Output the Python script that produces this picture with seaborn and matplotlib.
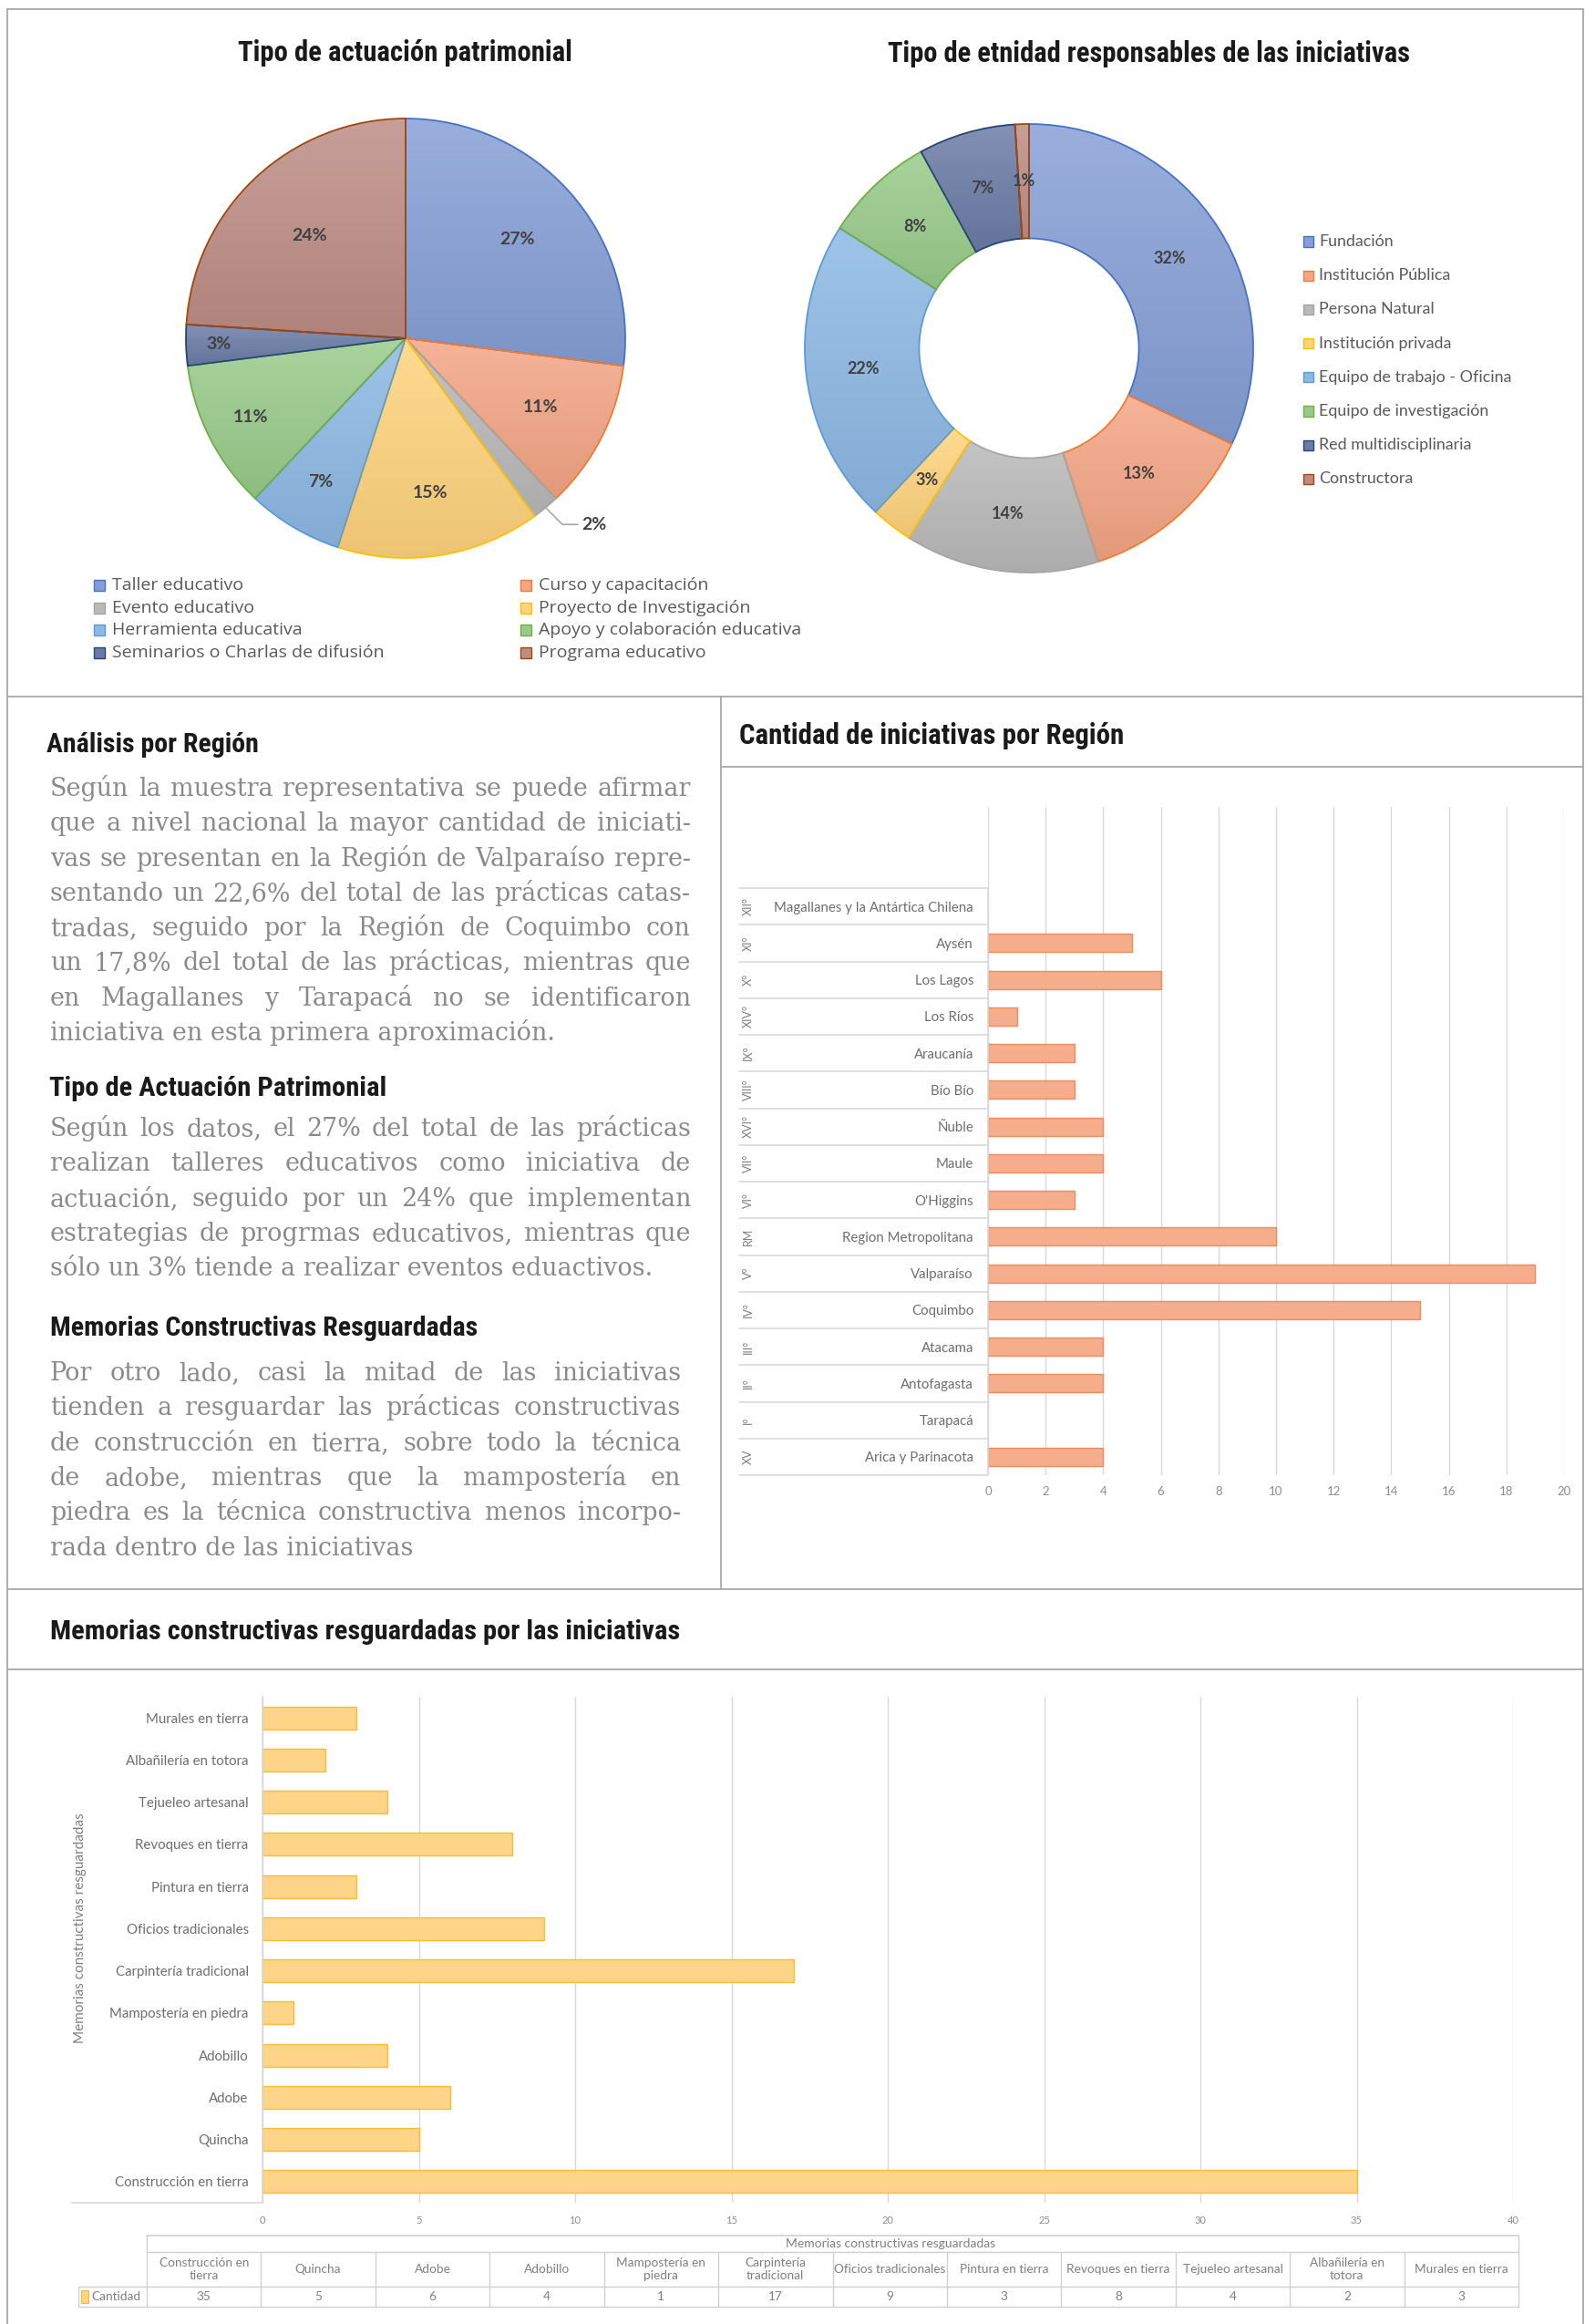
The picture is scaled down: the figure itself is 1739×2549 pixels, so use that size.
import numpy as np
import pandas as pd
import matplotlib
matplotlib.use("Agg")
import matplotlib.pyplot as plt
import seaborn as sns
from matplotlib import font_manager as fm
from matplotlib.colors import to_rgb
from matplotlib.lines import Line2D
from matplotlib.patches import Rectangle

W, H = 1739, 2549

# ---------------- data ----------------
actuacion_labels = ["Taller educativo", "Curso y capacitación", "Evento educativo",
                    "Proyecto de Investigación", "Herramienta educativa",
                    "Apoyo y colaboración educativa", "Seminarios o Charlas de difusión",
                    "Programa educativo"]
actuacion_pct = [27, 11, 2, 15, 7, 11, 3, 24]

entidad_labels = ["Fundación", "Institución Pública", "Persona Natural", "Institución privada",
                  "Equipo de trabajo - Oficina", "Equipo de investigación",
                  "Red multidisciplinaria", "Constructora"]
entidad_pct = [32, 13, 14, 3, 22, 8, 7, 1]

region_numeros = ["XII°", "XI°", "X°", "XIV°", "IX°", "VIII°", "XVI°", "VII°", "VI°", "RM",
                  "V°", "IV°", "III°", "II°", "I°", "XV"]
region_nombres = ["Magallanes y la Antártica Chilena", "Aysén", "Los Lagos", "Los Ríos",
                  "Araucanía", "Bío Bío", "Ñuble", "Maule", "O'Higgins",
                  "Region Metropolitana", "Valparaíso", "Coquimbo", "Atacama",
                  "Antofagasta", "Tarapacá", "Arica y Parinacota"]
region_cantidad = [0, 5, 6, 1, 3, 3, 4, 4, 3, 10, 19, 15, 4, 4, 0, 4]
region_ticks = [0, 2, 4, 6, 8, 10, 12, 14, 16, 18, 20]

memorias = ["Construcción en tierra", "Quincha", "Adobe", "Adobillo", "Mampostería en piedra",
            "Carpintería tradicional", "Oficios tradicionales", "Pintura en tierra",
            "Revoques en tierra", "Tejueleo artesanal", "Albañilería en totora",
            "Murales en tierra"]
memorias_tabla = ["Construcción en\ntierra", "Quincha", "Adobe", "Adobillo",
                  "Mampostería en\npiedra", "Carpintería\ntradicional", "Oficios tradicionales",
                  "Pintura en tierra", "Revoques en tierra", "Tejueleo artesanal",
                  "Albañilería en\ntotora", "Murales en tierra"]
memorias_cantidad = [35, 5, 6, 4, 1, 17, 9, 3, 8, 4, 2, 3]
memorias_ticks = [0, 5, 10, 15, 20, 25, 30, 35, 40]

# ---------------- style ----------------
sns.set_theme(style="white")
plt.rcParams["font.family"] = ["Lato", "DejaVu Sans"]

PIE_FILL = ["#869FD6", "#F4A584", "#B9B9B9", "#FFD37C", "#8DB8E4", "#98CB8A", "#6A7CA6", "#BD8D84"]
PIE_EDGE = ["#4472C4", "#ED7D31", "#A5A5A5", "#FFC000", "#5B9BD5", "#70AD47", "#264478", "#9E480E"]
REG_FILL, REG_EDGE = "#F5AD8C", "#EC8B5F"
MEM_FILL, MEM_EDGE = "#FDD488", "#F4BD34"
FRAME = "#A8A8A8"
GRID = "#D9D9D9"
TXT = "#595959"
LBL = "#404040"
BODY = "#8A8A8A"
SMALL = "#7F7F7F"


def condensed_bold():
    prefs = ["Liberation Sans Narrow", "Roboto Condensed", "Open Sans Condensed",
             "Noto Sans", "DejaVu Sans", "Liberation Sans"]
    found = []
    for f in fm.fontManager.ttflist:
        fn = f.fname.lower()
        cond = ("condensed" in str(f.stretch) or "narrow" in f.name.lower()
                or "condensed" in fn or "narrow" in fn)
        bold = str(f.weight) in ("bold", "700") or "bold" in fn
        if cond and bold and "italic" not in fn and "oblique" not in fn:
            found.append(f)

    def rank(f):
        fn = f.fname.lower()
        odd = any(k in fn for k in ("extracondensed", "semicondensed", "ultracondensed",
                                    "extra-condensed", "semi-condensed"))
        heavy = any(k in fn for k in ("extrabold", "black", "semibold", "heavy"))
        base = next((i for i, p in enumerate(prefs) if f.name.startswith(p)), len(prefs))
        return (odd, heavy, base)

    if found:
        found.sort(key=rank)
        return fm.FontProperties(fname=found[0].fname)
    return fm.FontProperties(family="DejaVu Sans", weight="bold")


HEAD_FP = condensed_bold()

fig = plt.figure(figsize=(W / 100, H / 100), dpi=100)
fig.patch.set_facecolor("white")
renderer = fig.canvas.get_renderer()


def box(x0, y0, x1, y1):
    return [x0 / W, 1 - y1 / H, (x1 - x0) / W, (y1 - y0) / H]


def hline(y, x0, x1, color=FRAME, lw=1.3):
    fig.add_artist(Line2D([x0 / W, x1 / W], [1 - y / H, 1 - y / H],
                          transform=fig.transFigure, color=color, lw=lw))


def vline(x, y0, y1, color=FRAME, lw=1.3):
    fig.add_artist(Line2D([x / W, x / W], [1 - y0 / H, 1 - y1 / H],
                          transform=fig.transFigure, color=color, lw=lw))


def ftext(x, y, s, **kw):
    return fig.text(x / W, 1 - y / H, s, **kw)


def heading(x, y, s, width, ha="left"):
    fp = HEAD_FP.copy()
    fp.set_size(20)
    t = ftext(x, y, s, fontproperties=fp, ha=ha, va="baseline", color="#1A1A1A")
    w = t.get_window_extent(renderer).width
    t.set_fontsize(20 * width / w)
    return t


def shade(c, amount):
    """Blend a colour towards white (amount > 0) or black (amount < 0)."""
    c = np.array(to_rgb(c))
    if amount >= 0:
        return c + (1 - c) * amount
    return c * (1 + amount)


def gradient_wedges(ax, wedges, fills):
    """Fill each wedge with a soft top-to-bottom gradient, keeping its outline."""
    ramp = np.linspace(0, 1, 256)[:, None, None]
    for wdg, fc in zip(wedges, fills):
        top, bot = shade(fc, 0.16), shade(fc, -0.07)
        img = top * (1 - ramp) + bot * ramp
        ext = wdg.get_path().get_extents()
        im = ax.imshow(img, extent=[ext.x0, ext.x1, ext.y0, ext.y1], origin="upper",
                       aspect="auto", interpolation="bilinear", zorder=0.9)
        im.set_clip_path(wdg)
        wdg.set_facecolor("none")


# ---------------- panel frames ----------------
vline(8, 10, H)
vline(1737, 10, H)
hline(10, 8, 1737)
hline(764, 8, 1737)
hline(1743, 8, 1737)
vline(791, 764, 1743)
hline(841, 791, 1737)
hline(1831, 8, 1737)

# ---------------- pie: tipo de actuación ----------------
heading(444, 67, "Tipo de actuación patrimonial", 366, ha="center")
cx, cy, R = 445, 371, 241
ax_pie = fig.add_axes(box(cx - 252, cy - 252, cx + 252, cy + 252))
wedges, _ = ax_pie.pie(actuacion_pct, colors=PIE_FILL, startangle=90, counterclock=False,
                       wedgeprops=dict(linewidth=1.3))
for wdg, ec in zip(wedges, PIE_EDGE):
    wdg.set_edgecolor(ec)
gradient_wedges(ax_pie, wedges, PIE_FILL)
lim = 252 / R
ax_pie.set_xlim(-lim, lim)
ax_pie.set_ylim(-lim, lim)
ax_pie.set_aspect("auto")
ax_pie.axis("off")
pie_r = [0.68, 0.69, None, 0.71, 0.76, 0.79, 0.85, 0.64]
for wdg, pct, r in zip(wedges, actuacion_pct, pie_r):
    a = np.deg2rad((wdg.theta1 + wdg.theta2) / 2)
    if r is None:
        p0 = np.array([np.cos(a), np.sin(a)])
        p1 = np.array([1.12 * np.cos(a), 1.1 * np.sin(a)])
        p2 = p1 + np.array([0.07, 0.0])
        ax_pie.plot([p0[0], p1[0], p2[0]], [p0[1], p1[1], p2[1]], color="#A6A6A6",
                    lw=1.2, clip_on=False)
        ax_pie.text(p2[0] + 0.02, p2[1], f"{pct}%", ha="left", va="center",
                    fontsize=14, fontweight="bold", color=LBL)
    else:
        ax_pie.text(r * np.cos(a), r * np.sin(a), f"{pct}%", ha="center", va="center",
                    fontsize=14, fontweight="bold", color=LBL)

# legend in two columns (row-major order)
leg_rows = [642, 667, 691, 716]
for i, (lab, fc, ec) in enumerate(zip(actuacion_labels, PIE_FILL, PIE_EDGE)):
    col, row = i % 2, i // 2
    mx = 103 if col == 0 else 571
    y = leg_rows[row]
    fig.add_artist(Rectangle((mx / W, 1 - (y + 6) / H), 12 / W, 12 / H,
                             transform=fig.transFigure, facecolor=fc, edgecolor=ec, lw=1))
    ftext(mx + 20, y, lab, ha="left", va="center", fontsize=14, color=TXT,
          family=["Open Sans", "DejaVu Sans"])

# ---------------- donut: tipo de entidad ----------------
heading(1261, 68, "Tipo de etnidad responsables de las iniciativas", 571, ha="center")
dx, dy, DR = 1129, 382, 246
ax_don = fig.add_axes(box(dx - 257, dy - 257, dx + 257, dy + 257))
wedges2, _ = ax_don.pie(entidad_pct, colors=PIE_FILL, startangle=90, counterclock=False,
                        wedgeprops=dict(width=0.51, linewidth=1.3))
for wdg, ec in zip(wedges2, PIE_EDGE):
    wdg.set_edgecolor(ec)
gradient_wedges(ax_don, wedges2, PIE_FILL)
lim = 257 / DR
ax_don.set_xlim(-lim, lim)
ax_don.set_ylim(-lim, lim)
ax_don.set_aspect("auto")
ax_don.axis("off")
for wdg, pct in zip(wedges2, entidad_pct):
    a = np.deg2rad((wdg.theta1 + wdg.theta2) / 2)
    ax_don.text(0.745 * np.cos(a), 0.745 * np.sin(a), f"{pct}%", ha="center", va="center",
                fontsize=13, fontweight="bold", color=LBL)

for i, (lab, fc, ec) in enumerate(zip(entidad_labels, PIE_FILL, PIE_EDGE)):
    y = 265 + i * 37.2
    fig.add_artist(Rectangle((1430 / W, 1 - (y + 5.5) / H), 11 / W, 11 / H,
                             transform=fig.transFigure, facecolor=fc, edgecolor=ec, lw=1))
    ftext(1447, y, lab, ha="left", va="center", fontsize=12.9, color=TXT)

# ---------------- text column ----------------
paragraphs = [
    ("Análisis por Región", 825, 51, 232, 873, 758, [
        "Según la muestra representativa se puede afirmar",
        "que a nivel nacional la mayor cantidad de iniciati-",
        "vas se presentan en la Región de Valparaíso repre-",
        "sentando un 22,6% del total de las prácticas catas-",
        "tradas, seguido por la Región de Coquimbo con",
        "un 17,8% del total de las prácticas, mientras que",
        "en Magallanes y Tarapacá no se identificaron",
        "iniciativa en esta primera aproximación.",
    ]),
    ("Tipo de Actuación Patrimonial", 1202, 54, 369, 1246, 758, [
        "Según los datos, el 27% del total de las prácticas",
        "realizan talleres educativos como iniciativa de",
        "actuación, seguido por un 24% que implementan",
        "estrategias de progrmas educativos, mientras que",
        "sólo un 3% tiende a realizar eventos eduactivos.",
    ]),
    ("Memorias Constructivas Resguardadas", 1465, 55, 470, 1514, 747, [
        "Por otro lado, casi la mitad de las iniciativas",
        "tienden a resguardar las prácticas constructivas",
        "de construcción en tierra, sobre todo la técnica",
        "de adobe,  mientras que la mampostería en",
        "piedra es la técnica constructiva menos incorpo-",
        "rada dentro de las iniciativas",
    ]),
]
BODY_FAMILY = ["DejaVu Serif"]
LEFT = 55
LSP = 38.3

# pick a body size so the widest full line fits its column
probe_size = 20.0
scale = 10.0
for _, _, _, _, _, right, lines in paragraphs:
    for ln in lines[:-1]:
        t = fig.text(0, 0, ln, fontsize=probe_size, family=BODY_FAMILY)
        w = t.get_window_extent(renderer).width
        t.remove()
        scale = min(scale, (right - LEFT) * 0.99 / w)
body_size = probe_size * scale

for title, tb, tx, tw, b0, right, lines in paragraphs:
    heading(tx, tb, title, tw)
    for k, ln in enumerate(lines):
        yb = b0 + k * LSP
        words = ln.split()
        last = k == len(lines) - 1
        if last or len(words) == 1:
            ftext(LEFT, yb, " ".join(words), fontsize=body_size, family=BODY_FAMILY,
                  color=BODY, va="baseline", ha="left")
            continue
        objs = [ftext(0, yb, wd, fontsize=body_size, family=BODY_FAMILY, color=BODY,
                      va="baseline", ha="left") for wd in words]
        widths = [o.get_window_extent(renderer).width for o in objs]
        gap = (right - LEFT - sum(widths)) / (len(words) - 1)
        x = LEFT
        for o, wdt in zip(objs, widths):
            o.set_x(x / W)
            x += wdt + gap

# ---------------- bar chart: regiones ----------------
heading(811, 816, "Cantidad de iniciativas por Región", 421)
AX3 = (1084, 885, 1716, 1618)
ax3 = fig.add_axes(box(*AX3))
df_reg = pd.DataFrame({"region": region_nombres, "cantidad": region_cantidad})
sns.barplot(data=df_reg, x="cantidad", y="region", order=region_nombres, orient="h",
            color=REG_FILL, edgecolor=REG_EDGE, linewidth=1.0, width=0.5, saturation=1,
            errorbar=None, ax=ax3)
for p in ax3.patches:
    if p.get_width() == 0:
        p.set_visible(False)
row_px = 40.25
n = len(region_nombres)
ax3.set_xlim(0, 20)
ax3.set_ylim(n - 0.5, -0.5 - (974 - AX3[1]) / row_px)
ax3.set_xticks(region_ticks)
ax3.grid(axis="x", color=GRID, lw=1)
ax3.grid(axis="y", visible=False)
ax3.set_axisbelow(True)
for s in ax3.spines.values():
    s.set_visible(False)
ax3.set_xlabel("")
ax3.set_ylabel("")
ax3.tick_params(axis="y", length=0, pad=11.5, labelsize=10.8, labelcolor="#6E6E6E")
ax3.tick_params(axis="x", length=0, pad=9, labelsize=9.5, labelcolor="#8C8C8C")
ytr = ax3.get_yaxis_transform()
x_tab = (811 - AX3[0]) / (AX3[2] - AX3[0])
x_num = (821 - AX3[0]) / (AX3[2] - AX3[0])
for k in range(n + 1):
    ax3.plot([x_tab, 0], [k - 0.5, k - 0.5], transform=ytr, color=GRID, lw=1.2, clip_on=False)
ax3.plot([0, 0], [-0.5, n - 0.5], transform=ytr, color=GRID, lw=1.2, clip_on=False)
for k, num in enumerate(region_numeros):
    ax3.text(x_num, k, num, transform=ytr, rotation=90, ha="center", va="center",
             fontsize=9, color=SMALL)

# ---------------- bar chart: memorias ----------------
heading(55, 1798, "Memorias constructivas resguardadas por las iniciativas", 688)
AX4 = (288, 1861, 1660, 2416)
ax4 = fig.add_axes(box(*AX4))
df_mem = pd.DataFrame({"memoria": memorias, "cantidad": memorias_cantidad})
sns.barplot(data=df_mem, x="cantidad", y="memoria", order=memorias[::-1], orient="h",
            color=MEM_FILL, edgecolor=MEM_EDGE, linewidth=1.0, width=0.54, saturation=1,
            errorbar=None, ax=ax4)
ax4.set_xlim(0, 40)
ax4.set_ylim(len(memorias) - 0.5, -0.5)
ax4.set_xticks(memorias_ticks)
ax4.grid(axis="x", color=GRID, lw=1)
ax4.grid(axis="y", visible=False)
ax4.set_axisbelow(True)
for s in ax4.spines.values():
    s.set_visible(False)
ax4.spines["left"].set_visible(True)
ax4.spines["left"].set_color(GRID)
ax4.spines["left"].set_linewidth(1.2)
ax4.set_xlabel("")
ax4.set_ylabel("")
ax4.tick_params(axis="y", length=0, pad=11, labelsize=10.8, labelcolor="#6E6E6E")
ax4.tick_params(axis="x", length=0, pad=10, labelsize=8, labelcolor="#8C8C8C")
hline(2416, 78, 288, color=GRID, lw=1.2)
ftext(88, 2115, "Memorias constructivas resguardadas", rotation=90, ha="center", va="center",
      fontsize=11, color=SMALL)

# data table under the chart
T0, T1 = 161, 1666
ncol = len(memorias_tabla)
cw = (T1 - T0) / ncol
TB = "#D0D0D0"
hline(2452, T0, T1, color=TB, lw=1.2)
hline(2470, T0, T1, color=TB, lw=1.0)
hline(2508, 86, T1, color=TB, lw=1.0)
hline(2530, 86, T1, color=TB, lw=1.0)
vline(T0, 2452, 2530, color=TB, lw=1.0)
vline(T1, 2452, 2530, color=TB, lw=1.0)
vline(86, 2508, 2530, color=TB, lw=1.0)
for k in range(1, ncol):
    vline(T0 + k * cw, 2470, 2530, color=TB, lw=1.0)
ftext(977, 2461, "Memorias constructivas resguardadas", ha="center", va="center",
      fontsize=10, color=SMALL)
for k, (lab, val) in enumerate(zip(memorias_tabla, memorias_cantidad)):
    xc = T0 + (k + 0.5) * cw
    ftext(xc, 2489, lab, ha="center", va="center", fontsize=9.8, color=SMALL,
          linespacing=1.1)
    ftext(xc, 2519, str(val), ha="center", va="center", fontsize=9.8, color=SMALL)
fig.add_artist(Rectangle((89 / W, 1 - 2526 / H), 8 / W, 14 / H, transform=fig.transFigure,
                         facecolor=MEM_FILL, edgecolor=MEM_EDGE, lw=0.8))
ftext(100, 2519, "Cantidad", ha="left", va="center", fontsize=9.8, color=SMALL)

fig.savefig("out.png", dpi=100, facecolor="white")
